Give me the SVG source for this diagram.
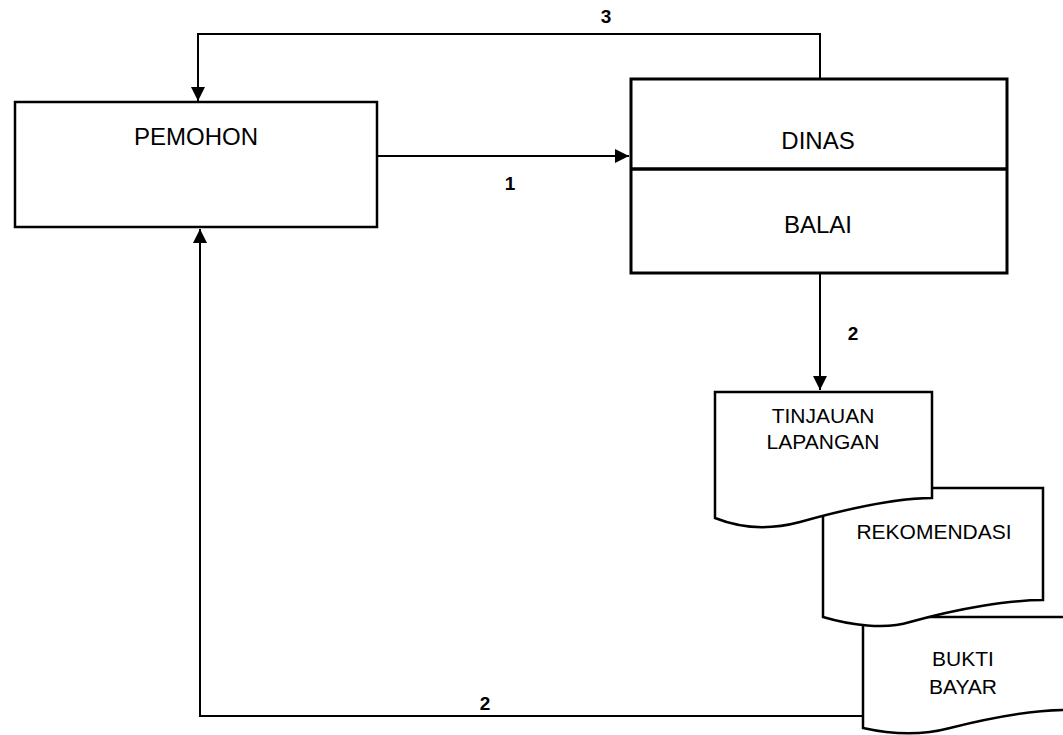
<svg xmlns="http://www.w3.org/2000/svg" width="1063" height="735" viewBox="0 0 1063 735">
<style>
.box{fill:#fff;stroke:#000;stroke-width:2.5}
.thick{fill:#fff;stroke:#000;stroke-width:3}
.line{fill:none;stroke:#000;stroke-width:2}
.t{font-family:"Liberation Sans",Arial,sans-serif;font-size:24px;fill:#000;text-anchor:middle}
.d{font-family:"Liberation Sans",Arial,sans-serif;font-size:21px;fill:#000;text-anchor:middle}
.n{font-family:"Liberation Sans",Arial,sans-serif;font-size:19px;font-weight:bold;fill:#000;text-anchor:middle}
</style>
<defs>
<marker id="ah" viewBox="0 0 10 10" refX="10" refY="5" markerWidth="7" markerHeight="7" markerUnits="strokeWidth" orient="auto">
<path d="M0,0 L10,5 L0,10 Z" fill="#000"/>
</marker>
</defs>
<rect width="1063" height="735" fill="#fff"/>
<g id="connectors">
<path class="line" d="M378,156 H629" marker-end="url(#ah)"/>
<path class="line" d="M820,79 V34 H198 V101" marker-end="url(#ah)"/>
<path class="line" d="M820,273 V390" marker-end="url(#ah)"/>
<path class="line" d="M863,716 H200 V229" marker-end="url(#ah)"/>
<text class="n" x="510" y="190">1</text>
<text class="n" x="606" y="23">3</text>
<text class="n" x="853" y="340">2</text>
<text class="n" x="485" y="710">2</text>
</g>
<g id="pemohon">
<rect class="box" x="15" y="102" width="362" height="125"/>
<text class="t" x="196" y="145">PEMOHON</text>
</g>
<g id="dinas-balai">
<rect class="thick" x="631" y="79" width="376" height="194"/>
<line x1="631" y1="169" x2="1007" y2="169" stroke="#000" stroke-width="3.5"/>
<text class="t" x="818" y="149">DINAS</text>
<text class="t" x="818" y="233">BALAI</text>
</g>
<g id="bukti">
<path class="box" d="M863,617 H1066 V710 C1030,710 990,718 950,728 C920,736 890,734 863,728 Z"/>
<text class="d" x="963" y="666">BUKTI</text>
<text class="d" x="963" y="694">BAYAR</text>
</g>
<g id="rekomendasi">
<path class="box" d="M823,488 H1043 V600 C1010,600 960,608 910,622 C885,630 850,625 823,617 Z"/>
<text class="d" x="934" y="539">REKOMENDASI</text>
</g>
<g id="tinjauan">
<path class="box" d="M715,392 H932 V498 C900,498 850,508 800,522 C770,530 740,528 715,518 Z"/>
<text class="d" x="823" y="423">TINJAUAN</text>
<text class="d" x="823" y="449">LAPANGAN</text>
</g>
</svg>
